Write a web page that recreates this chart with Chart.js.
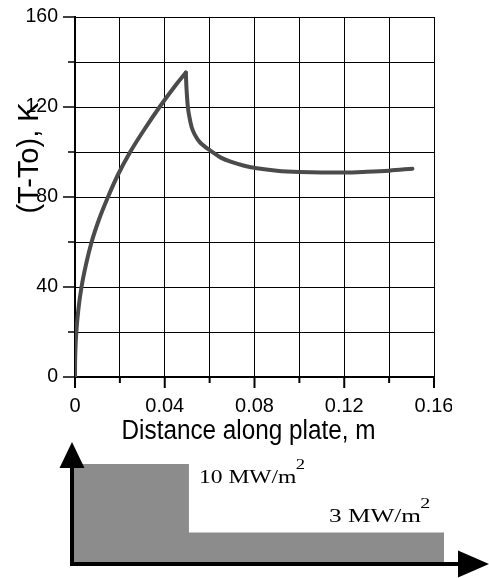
<!DOCTYPE html>
<html>
<head>
<meta charset="utf-8">
<script src="https://cdn.jsdelivr.net/npm/chart.js@4.4.1/dist/chart.umd.min.js"></script>
<style>
html,body{margin:0;padding:0;background:#fff;overflow:hidden;}
#wrap{position:relative;width:489px;height:578px;}
canvas{position:absolute;left:0;}
#main{top:0;}
#flux{top:430px;}
</style>
</head>
<body>
<div id="wrap">
<canvas id="main" width="489" height="450"></canvas>
<canvas id="flux" width="489" height="148"></canvas>
</div>
<script>
// ---- data ----
const riseX = [0, 0.00002, 0.00015, 0.0006, 0.0015, 0.0029, 0.0049, 0.0074, 0.0107, 0.0147, 0.0192, 0.0246, 0.0309, 0.0377, 0.0451, 0.0494];
const riseY = [0, 4, 11, 20, 30, 40, 50, 60, 70, 80, 90, 100, 110, 120, 130, 135.3];
const fallX = [0.0494, 0.0496, 0.0499, 0.0503, 0.0510, 0.0520, 0.0535, 0.0555, 0.0580, 0.0605, 0.0650, 0.0700, 0.0750, 0.0810, 0.0900, 0.1000, 0.1100, 0.1200, 0.1300, 0.1400, 0.1504];
const fallY = [135.3, 130, 125, 120, 115.5, 111, 107.5, 104.5, 102.3, 100.5, 97.5, 95.5, 94, 92.8, 91.7, 91.1, 90.9, 90.9, 91.2, 91.7, 92.6];
const xTickLabels = ['0', '0.04', '0.08', '0.12', '0.16'];
const yTickLabels = ['0', '40', '80', '120', '160'];
const xAxisTitle = 'Distance along plate, m';
const yAxisTitle = '(T-To), K';
const fluxEdges = [0, 0.05, 0.16];
const fluxLevels = [10, 3];
const fluxUnit = 'MW/m';
const fluxUnitSup = '2';

const toPts = (xs, ys) => xs.map((x, i) => ({x: x, y: ys[i]}));
const SANS = '"Liberation Sans", Arial, sans-serif';
const SERIF = '"Liberation Serif", "Times New Roman", serif';
const isMajorX = v => Math.round(v * 100) % 4 === 0;
const isMajorY = v => Math.round(v) % 40 === 0;

const mainDeco = {
  id: 'mainDeco',
  beforeDraw(chart) {
    const c = chart.ctx;
    c.save();
    c.beginPath();
    c.rect(0, 0, 452, chart.height);
    c.clip();
  },
  afterDraw(chart) {
    const c = chart.ctx;
    c.restore();
    const a = chart.chartArea, xs = chart.scales.x, ys = chart.scales.y;
    c.save();
    c.strokeStyle = '#000';
    c.lineWidth = 1.5;
    ys.ticks.forEach(t => {
      const p = ys.getPixelForValue(t.value);
      const len = isMajorY(t.value) ? 12 : 7;
      c.beginPath(); c.moveTo(a.left - len, p); c.lineTo(a.left, p); c.stroke();
    });
    c.lineWidth = 2;
    xs.ticks.forEach(t => {
      const p = xs.getPixelForValue(t.value);
      const len = isMajorX(t.value) ? 11 : 6;
      c.beginPath(); c.moveTo(p, a.bottom); c.lineTo(p, a.bottom + len); c.stroke();
    });
    // x axis title
    c.fillStyle = '#000';
    c.save();
    c.translate((a.left + a.right) / 2 - 6, a.bottom + 62);
    c.scale(0.9, 1);
    c.font = '27px ' + SANS;
    c.textAlign = 'center';
    c.textBaseline = 'alphabetic';
    c.fillText(xAxisTitle, 0, 0);
    c.restore();
    // y axis title
    c.save();
    c.translate(38, 158);
    c.rotate(-Math.PI / 2);
    c.font = '29px ' + SANS;
    c.textAlign = 'center';
    c.textBaseline = 'alphabetic';
    c.fillText(yAxisTitle, 0, 0);
    c.restore();
    c.restore();
  }
};

const lineStyle = {borderColor: '#4b4b4b', borderWidth: 4, pointRadius: 0, cubicInterpolationMode: 'monotone', fill: false, borderCapStyle: 'round', borderJoinStyle: 'round'};

new Chart(document.getElementById('main'), {
  type: 'line',
  data: {
    datasets: [
      Object.assign({data: toPts(riseX, riseY)}, lineStyle),
      Object.assign({data: toPts(fallX, fallY)}, lineStyle)
    ]
  },
  options: {
    responsive: false,
    animation: false,
    events: [],
    layout: {padding: {top: 17, right: 55, left: 0, bottom: 0}},
    plugins: {legend: {display: false}, tooltip: {enabled: false}},
    scales: {
      x: {
        type: 'linear', min: 0, max: 0.16,
        afterFit: s => { s.height = 73; s.paddingLeft = 0; s.paddingRight = 0; },
        grid: {color: '#000', lineWidth: 1, drawTicks: false},
        border: {color: '#000', width: 2},
        ticks: {
          stepSize: 0.02, autoSkip: false, maxRotation: 0, padding: 17,
          color: '#000', font: {family: SANS, size: 20},
          callback: v => isMajorX(v) ? xTickLabels[Math.round(v * 100) / 4] : ''
        }
      },
      y: {
        type: 'linear', min: 0, max: 160,
        afterFit: s => { s.width = 75; s.paddingTop = 0; s.paddingBottom = 0; },
        grid: {color: '#000', lineWidth: 1, drawTicks: false},
        border: {color: '#000', width: 2},
        ticks: {
          stepSize: 20, autoSkip: false, padding: 17,
          color: '#000', font: {family: SANS, size: 19.5},
          callback: v => isMajorY(v) ? yTickLabels[Math.round(v) / 40] : ''
        }
      }
    }
  },
  plugins: [mainDeco]
});

// ---- heat flux schematic ----
const fluxPts = [];
fluxLevels.forEach((lv, i) => { fluxPts.push({x: fluxEdges[i], y: lv}, {x: fluxEdges[i + 1], y: lv}); });

function supText(c, x, y, main, sup, sx, right) {
  c.save();
  c.translate(x, y);
  c.scale(sx, 1);
  c.font = '19px ' + SERIF;
  const w = c.measureText(main).width;
  c.font = '15px ' + SERIF;
  const ws = c.measureText(sup).width;
  const x0 = right ? -(w + ws) : 0;
  c.fillStyle = '#000';
  c.textBaseline = 'alphabetic';
  c.textAlign = 'left';
  c.font = '19px ' + SERIF;
  c.fillText(main, x0, 0);
  c.font = '15px ' + SERIF;
  c.fillText(sup, x0 + w - 0.5, -14);
  c.restore();
}

const fluxDeco = {
  id: 'fluxDeco',
  afterDraw(chart) {
    const c = chart.ctx, a = chart.chartArea, xs = chart.scales.x, ys = chart.scales.y;
    const xb = a.left - 1, yb = a.bottom + 2;
    c.save();
    c.strokeStyle = '#000'; c.fillStyle = '#000'; c.lineWidth = 4;
    c.beginPath(); c.moveTo(xb, yb + 2); c.lineTo(xb, a.top + 2); c.stroke();
    c.beginPath(); c.moveTo(xb, a.top - 22); c.lineTo(xb - 12.5, a.top + 4); c.lineTo(xb + 12.5, a.top + 4); c.closePath(); c.fill();
    c.beginPath(); c.moveTo(xb - 2, yb); c.lineTo(a.right + 16, yb); c.stroke();
    c.beginPath(); c.moveTo(a.right + 45, yb); c.lineTo(a.right + 14, yb - 13.5); c.lineTo(a.right + 14, yb + 13.5); c.closePath(); c.fill();
    supText(c, xs.getPixelForValue(fluxEdges[1]) + 10, ys.getPixelForValue(fluxLevels[0]) + 19, fluxLevels[0] + ' ' + fluxUnit, fluxUnitSup, 1.24, false);
    supText(c, a.right - 13, ys.getPixelForValue(fluxLevels[1]) - 11, fluxLevels[1] + ' ' + fluxUnit, fluxUnitSup, 1.33, true);
    c.restore();
  }
};

new Chart(document.getElementById('flux'), {
  type: 'line',
  data: {datasets: [{data: fluxPts, borderWidth: 0, pointRadius: 0, tension: 0, fill: 'origin', backgroundColor: '#8c8c8c', borderColor: '#8c8c8c'}]},
  options: {
    responsive: false,
    animation: false,
    events: [],
    layout: {padding: {left: 73, right: 45, top: 34, bottom: 16}},
    plugins: {legend: {display: false}, tooltip: {enabled: false}},
    scales: {
      x: {type: 'linear', display: false, min: fluxEdges[0], max: fluxEdges[fluxEdges.length - 1]},
      y: {type: 'linear', display: false, min: 0, max: fluxLevels[0]}
    }
  },
  plugins: [fluxDeco]
});
</script>
</body>
</html>
